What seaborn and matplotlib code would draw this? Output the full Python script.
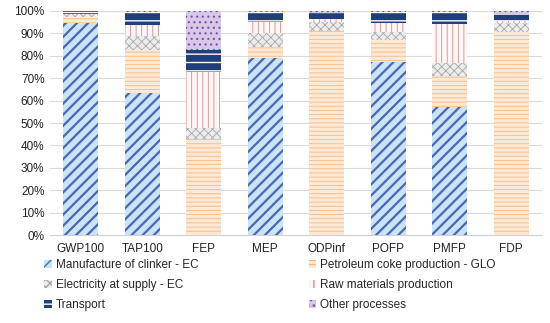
import matplotlib
matplotlib.use("Agg")
import matplotlib.pyplot as plt
import seaborn as sns
import pandas as pd
import numpy as np
from matplotlib.patches import Patch
from matplotlib.ticker import PercentFormatter

categories = ["GWP100", "TAP100", "FEP", "MEP", "ODPinf", "POFP", "PMFP", "FDP"]
clinker     = [94.5, 63.3, 0.0, 79.0, 0.0, 77.4, 57.0, 0.0]
coke        = [2.8, 19.3, 42.7, 5.0, 91.0, 9.6, 14.0, 90.5]
electricity = [1.2, 6.2, 5.0, 6.0, 4.0, 3.5, 5.6, 4.0]
raw         = [0.3, 5.0, 25.0, 5.2, 1.5, 4.3, 17.6, 1.0]
transport   = [1.0, 5.7, 10.0, 4.3, 2.5, 4.7, 5.3, 2.5]
other       = [0.2, 0.5, 17.3, 0.5, 1.0, 0.5, 0.5, 2.0]

series_names = ["Manufacture of clinker - EC", "Petroleum coke production - GLO",
                "Electricity at supply - EC", "Raw materials production",
                "Transport", "Other processes"]
series_vals = [clinker, coke, electricity, raw, transport, other]

# fill, hatch colour, hatch, hatch linewidth
styles = [
    ("#c9e3f7", "#4a66b8", "///", 1.6),
    ("#fde9d3", "#f2b985", "----", 0.6),
    ("#ececec", "#a8a8a8", "xxxx", 0.6),
    ("#fff6f6", "#d98a86", "|||", 0.6),
    ("#203f78", "#ffffff", "--", 1.0),
    ("#d6c8e6", "#7a4ea8", "...", 0.8),
]

sns.set_theme(style="white")
plt.rcParams["font.family"] = ["Liberation Sans", "DejaVu Sans"]

fig = plt.figure(figsize=(5.5, 3.23), dpi=100)
ax = fig.add_axes([0.091, 0.272, 0.894, 0.694])

df = pd.DataFrame({"cat": categories})
cum = np.cumsum(np.array(series_vals), axis=0)

# draw cumulative totals from top layer down so each lower layer covers the upper's base
for i in range(len(series_vals) - 1, -1, -1):
    fill, hc, hatch, hlw = styles[i]
    df["v"] = cum[i]
    with plt.rc_context({"hatch.linewidth": hlw}):
        sns.barplot(data=df, x="cat", y="v", ax=ax, color=fill, width=0.57,
                    saturation=1, edgecolor=hc, linewidth=0, hatch=hatch, zorder=2)

ax.set_ylim(0, 100)
ax.set_yticks(np.arange(0, 101, 10))
ax.yaxis.set_major_formatter(PercentFormatter(decimals=0))
ax.set_xlim(-0.5, len(categories) - 0.5)
ax.set_xlabel("")
ax.set_ylabel("")
ax.grid(axis="y", color="#d9d9d9", linewidth=0.8, zorder=0)
ax.set_axisbelow(True)
for s in ["top", "right", "left"]:
    ax.spines[s].set_visible(False)
ax.spines["bottom"].set_color("#d0d0d0")
ax.spines["bottom"].set_linewidth(0.8)
ax.tick_params(axis="both", length=0, labelsize=8.5, colors="#222222")
ax.tick_params(axis="x", pad=6)
ax.tick_params(axis="y", pad=4)

handles = []
for i, name in enumerate(series_names):
    fill, hc, hatch, hlw = styles[i]
    with plt.rc_context({"hatch.linewidth": hlw}):
        handles.append(Patch(facecolor=fill, edgecolor=hc, hatch=hatch, linewidth=0, label=name))

# row-major order in a 2-column legend
order = [0, 2, 4, 1, 3, 5]
fig.legend(handles=[handles[k] for k in order], ncol=2, loc="upper left",
           bbox_to_anchor=(0.072, 0.212),
           frameon=False, fontsize=8.5, handlelength=0.65, handleheight=0.65,
           handletextpad=0.35, columnspacing=9.3, labelspacing=0.68, borderaxespad=0)

fig.savefig("out.png", dpi=100)
